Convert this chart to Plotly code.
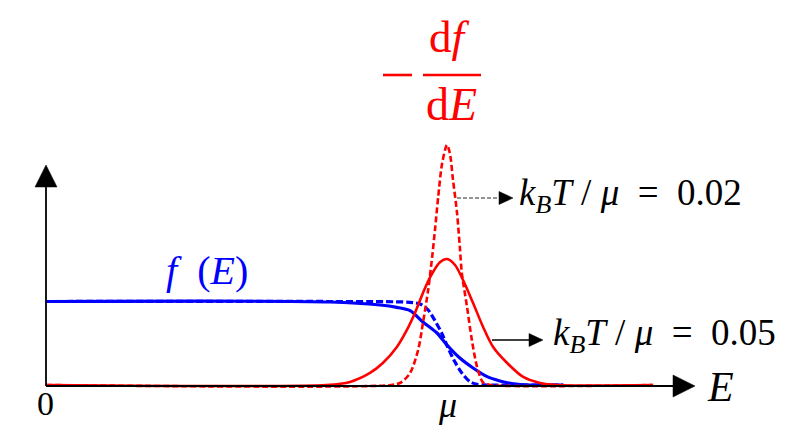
import plotly.graph_objects as go

# ---------------- data (E in units of mu) ----------------
# Fermi function, kB T / mu = 0.05 (solid blue)
E_f05 = [0.0, 0.708, 0.833, 0.875, 0.908, 0.940, 0.975, 1.000, 1.032, 1.065, 1.100, 1.132, 1.165, 1.207, 1.29]
f_05 = [1.0, 0.994, 0.958, 0.930, 0.890, 0.754, 0.623, 0.479, 0.323, 0.204, 0.100, 0.048, 0.014, 0.0, 0.0]

# Fermi function, kB T / mu = 0.02 (dashed blue)
E_f02 = [0.0, 0.708, 0.908, 0.933, 0.953, 0.970, 0.988, 1.002, 1.020, 1.037, 1.057, 1.075, 1.100, 1.29]
f_02 = [1.0, 1.0, 0.990, 0.970, 0.898, 0.770, 0.610, 0.450, 0.275, 0.144, 0.040, 0.008, 0.0, 0.0]

# -df/dE, kB T / mu = 0.05 (solid red)
E_d05 = [0.0, 0.700, 0.758, 0.808, 0.840, 0.875, 0.900, 0.920, 0.940, 0.958, 0.983, 1.000,
         1.020, 1.040, 1.065, 1.090, 1.115, 1.150, 1.190, 1.232, 1.274, 1.514]
d_05 = [0.0, 0.0, 0.036, 0.144, 0.263, 0.455, 0.659, 0.862, 1.102, 1.293, 1.473, 1.509,
        1.437, 1.257, 0.982, 0.695, 0.455, 0.263, 0.096, 0.024, 0.0, 0.0]

# -df/dE, kB T / mu = 0.02 (dashed red)
E_d02 = [0.0, 0.860, 0.885, 0.908, 0.928, 0.940, 0.953, 0.963, 0.970, 0.978, 0.988, 1.000,
         1.007, 1.015, 1.025, 1.032, 1.037, 1.050, 1.062, 1.075, 1.090, 1.110, 1.514]
d_02 = [0.0, 0.0, 0.030, 0.144, 0.419, 0.743, 1.138, 1.533, 1.856, 2.251, 2.659, 2.874,
        2.778, 2.455, 2.060, 1.653, 1.341, 0.934, 0.539, 0.216, 0.030, 0.0, 0.0]

labels = {"f": "<i>f</i>&nbsp; (<i>E</i>)",
          "k02": "<i>k<sub>B</sub>T</i> / <i>μ</i>  =  0.02",
          "k05": "<i>k<sub>B</sub>T</i> / <i>μ</i>  =  0.05"}

# ---------------- layout helpers (pixel -> paper) ----------------
W, H = 792, 444
X0, Y0, SX, SY = 46, 385, 401, 83.5  # pixel of origin, pixels per unit


def X(px):
    return px / W


def Y(py):
    return 1 - py / H


BLUE = "#0000ff"
RED = "#ff0000"

fig = go.Figure()
fig.add_trace(go.Scatter(x=E_f05, y=f_05, mode="lines",
                         line=dict(color=BLUE, width=3.2, shape="spline", smoothing=0.8)))
fig.add_trace(go.Scatter(x=E_f02, y=f_02, mode="lines",
                         line=dict(color=BLUE, width=3.2, dash="7px,3px", shape="spline", smoothing=0.8)))
fig.add_trace(go.Scatter(x=E_d05, y=d_05, mode="lines",
                         line=dict(color=RED, width=2.6, shape="spline", smoothing=0.8)))
fig.add_trace(go.Scatter(x=E_d02, y=d_02, mode="lines",
                         line=dict(color=RED, width=2.6, dash="6px,3px", shape="spline", smoothing=0.8)))

shapes = []
# axes
shapes.append(dict(type="line", xref="paper", yref="paper", x0=X(46), y0=Y(386), x1=X(675), y1=Y(386),
                   line=dict(color="black", width=1.8), layer="above"))
shapes.append(dict(type="line", xref="paper", yref="paper", x0=X(46), y0=Y(386), x1=X(46), y1=Y(185),
                   line=dict(color="black", width=1.8), layer="above"))
shapes.append(dict(type="path", xref="paper", yref="paper",
                   path=f"M {X(695)} {Y(386)} L {X(673)} {Y(375)} L {X(673)} {Y(397)} Z",
                   fillcolor="black", line=dict(color="black", width=0.5)))
shapes.append(dict(type="path", xref="paper", yref="paper",
                   path=f"M {X(46)} {Y(165)} L {X(35)} {Y(187)} L {X(57)} {Y(187)} Z",
                   fillcolor="black", line=dict(color="black", width=0.5)))
# label pointers
shapes.append(dict(type="line", xref="paper", yref="paper", x0=X(457), y0=Y(198), x1=X(500), y1=Y(198),
                   line=dict(color="#707070", width=1.6, dash="4px,2px")))
shapes.append(dict(type="path", xref="paper", yref="paper",
                   path=f"M {X(513)} {Y(198)} L {X(499)} {Y(191.5)} L {X(499)} {Y(204.5)} Z",
                   fillcolor="black", line=dict(color="black", width=0.5)))
shapes.append(dict(type="line", xref="paper", yref="paper", x0=X(492), y0=Y(340), x1=X(531), y1=Y(340),
                   line=dict(color="black", width=1.6)))
shapes.append(dict(type="path", xref="paper", yref="paper",
                   path=f"M {X(543)} {Y(340)} L {X(529)} {Y(333.5)} L {X(529)} {Y(346.5)} Z",
                   fillcolor="black", line=dict(color="black", width=0.5)))
# -df/dE minus sign and fraction bar
shapes.append(dict(type="line", xref="paper", yref="paper", x0=X(383), y0=Y(75), x1=X(412), y1=Y(75),
                   line=dict(color=RED, width=2.6)))
shapes.append(dict(type="line", xref="paper", yref="paper", x0=X(423), y0=Y(75), x1=X(481), y1=Y(75),
                   line=dict(color=RED, width=2.6)))

SERIF = "Liberation Serif"
ann = []


def txt(text, px, py, size, color="black", xanchor="center"):
    ann.append(dict(text=text, x=X(px), y=Y(py), xref="paper", yref="paper", showarrow=False,
                    xanchor=xanchor, yanchor="middle", font=dict(family=SERIF, size=size, color=color)))


txt("0", 45, 403, 34)
txt("<i>μ</i>", 447, 405, 36)
txt("<i>E</i>", 720, 387, 42)
txt(labels["f"], 207, 270, 40, BLUE)
txt(labels["k02"], 517, 195, 37, xanchor="left")
txt(labels["k05"], 551, 335, 37, xanchor="left")
txt("d<i>f</i>", 449, 37, 45, RED)
txt("d<i>E</i>", 451, 104, 46, RED)

fig.update_layout(
    width=W, height=H, margin=dict(l=0, r=0, t=0, b=0),
    paper_bgcolor="white", plot_bgcolor="white", showlegend=False,
    font=dict(family=SERIF),
    xaxis=dict(range=[-X0 / SX, (W - X0) / SX], visible=False),
    yaxis=dict(range=[(Y0 - H) / SY, Y0 / SY], visible=False),
    shapes=shapes, annotations=ann,
)
fig.write_html("out.html", config={"displayModeBar": False},
               post_script="document.body.style.margin='0';document.body.style.overflow='hidden';")
